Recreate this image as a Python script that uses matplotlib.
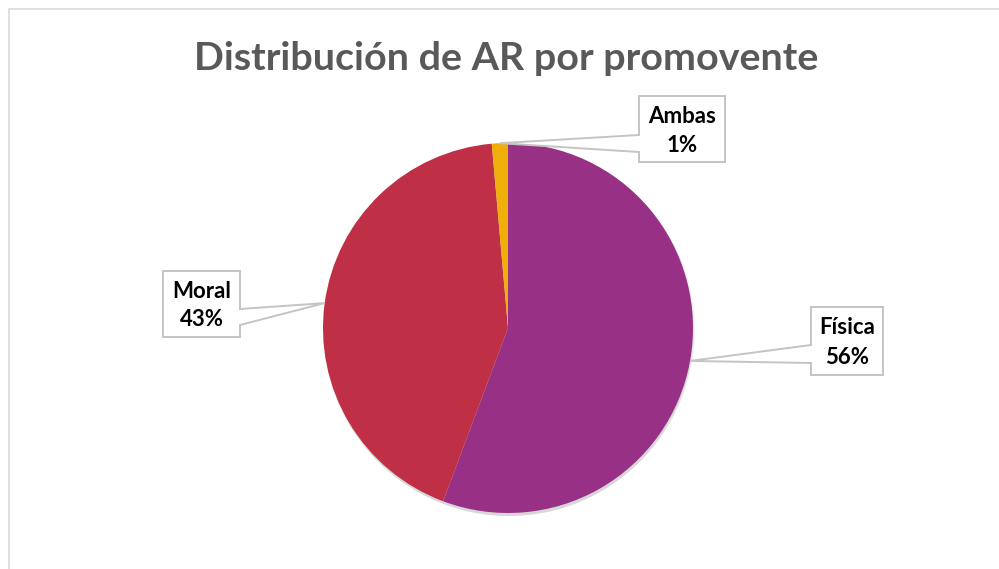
import numpy as np
import matplotlib.pyplot as plt
from matplotlib.patches import Polygon, Rectangle, Circle

# datos del grafico
categorias = ['Física', 'Moral', 'Ambas']
valores = [55.7, 42.9, 1.4]
colores = ['#983086', '#BF2F45', '#F0AE0A']
titulo = 'Distribución de AR por promovente'

W, H = 999, 569


def Y(py):
    # pixel (desde arriba) -> coordenada del eje
    return H - py


fig = plt.figure(figsize=(W / 100, H / 100), dpi=100)
ax = fig.add_axes([0, 0, 1, 1])
ax.set_xlim(0, W)
ax.set_ylim(0, H)
ax.set_aspect('equal')
ax.axis('off')

# borde del area del grafico
ax.add_patch(Rectangle((9, Y(575)), 1000, 566, fill=False, ec='#D9D9D9', lw=1.2))

cx, cy, r = 508, Y(328), 185

# sombra suave
for k, a in enumerate([0.05, 0.05, 0.06]):
    ax.add_patch(Circle((cx + 1, cy - 2 - k), r + 1 - k, color='black', alpha=a, lw=0, zorder=1))

wedges, _ = ax.pie(valores, colors=colores, startangle=90, counterclock=False,
                   radius=r, center=(cx, cy), frame=True,
                   wedgeprops=dict(linewidth=0, zorder=2))
ax.set_xlim(0, W)
ax.set_ylim(0, H)
ax.axis('off')

ax.text(506, Y(58), titulo, ha='center', va='center', fontsize=28.4,
        fontweight='bold', color='#595959', family='Lato')

# cajas de etiquetas: (x0, y0, x1, y1, lado, base1, base2) en pixeles
cajas = [
    (811, 307, 883, 375, 'left', 345, 363),
    (163, 271, 240, 337, 'right', 309, 325),
    (639, 96, 725, 162, 'left', 135, 152),
]

for w, cat, val, (x0, y0, x1, y1, lado, b1, b2) in zip(wedges, categorias, valores, cajas):
    ang = np.deg2rad((w.theta1 + w.theta2) / 2)
    tx, ty = cx + r * np.cos(ang), cy + r * np.sin(ang)
    if lado == 'left':
        pts = [(x0, Y(y0)), (x1, Y(y0)), (x1, Y(y1)), (x0, Y(y1)),
               (x0, Y(b2)), (tx, ty), (x0, Y(b1))]
    else:
        pts = [(x0, Y(y0)), (x1, Y(y0)), (x1, Y(b1)), (tx, ty),
               (x1, Y(b2)), (x1, Y(y1)), (x0, Y(y1))]
    ax.add_patch(Polygon(pts, closed=True, fc='white', ec='#C4C4C4', lw=1.4, zorder=3))
    xm = (x0 + x1) / 2
    ym = (y0 + y1) / 2
    ax.text(xm, Y(ym - 13), cat, ha='center', va='center', fontsize=16,
            fontweight='bold', color='black', family='Lato', zorder=4)
    ax.text(xm, Y(ym + 16), '%d%%' % round(val), ha='center', va='center', fontsize=16,
            fontweight='bold', color='black', family='Lato', zorder=4)

fig.savefig('out.png', dpi=100)
